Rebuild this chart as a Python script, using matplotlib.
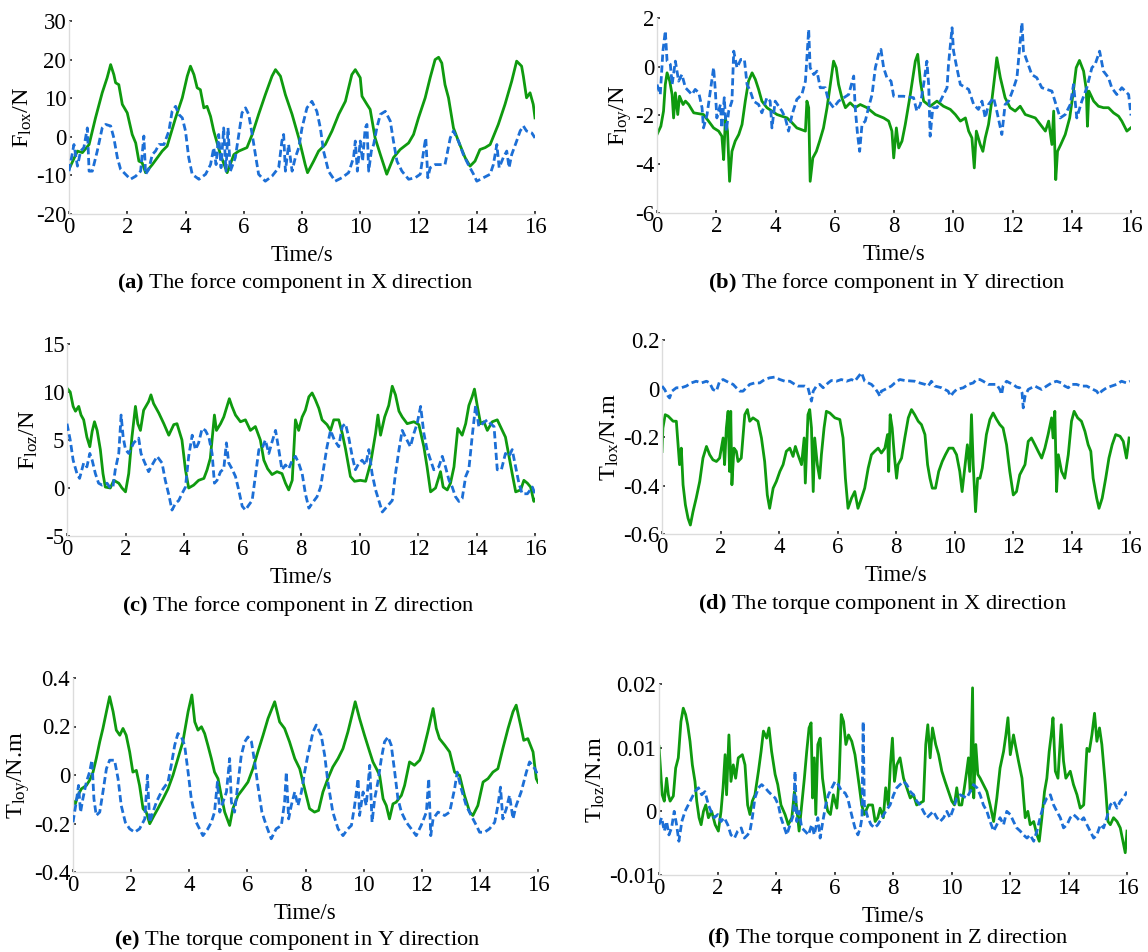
import matplotlib
matplotlib.use("Agg")
import matplotlib.pyplot as plt
from matplotlib.ticker import FuncFormatter

plt.rcParams['font.family'] = ['Liberation Serif', 'DejaVu Serif']
plt.rcParams['mathtext.fontset'] = 'custom'
plt.rcParams['mathtext.rm'] = 'Liberation Serif'
plt.rcParams['mathtext.it'] = 'Liberation Serif:italic'
plt.rcParams['mathtext.bf'] = 'Liberation Serif:bold'
plt.rcParams['axes.unicode_minus'] = False

# ---------------- data ----------------
# (a) force X
a_green_t = [0, 0.29, 0.46, 0.69, 0.91, 1.14, 1.31, 1.43, 1.54, 1.6, 1.71, 1.83, 2.0, 2.17, 2.29, 2.4, 2.51, 2.63, 2.86, 3.2, 3.37, 3.66, 3.89, 4.06, 4.17, 4.29, 4.4, 4.51, 4.63, 4.74, 4.86, 4.97, 5.2, 5.43, 5.66, 5.83, 6.11, 6.29, 6.51, 6.74, 6.97, 7.09, 7.26, 7.43, 7.66, 7.89, 8.11, 8.19, 8.4, 8.57, 8.8, 9.03, 9.26, 9.49, 9.71, 9.83, 10.0, 10.06, 10.23, 10.34, 10.51, 10.69, 10.91, 11.14, 11.37, 11.66, 11.83, 12.0, 12.23, 12.4, 12.57, 12.69, 12.8, 12.91, 13.03, 13.2, 13.37, 13.6, 13.77, 13.94, 14.11, 14.29, 14.46, 14.74, 14.97, 15.2, 15.37, 15.54, 15.6, 15.71, 15.83, 15.94, 16.0]
a_green_v = [-8.4, -3.7, -4.1, -2.0, 4.9, 11.4, 15.3, 18.7, 16.1, 14.0, 13.5, 8.4, 6.2, 0.6, -1.6, -6.3, -6.7, -9.3, -7.2, -3.7, -2.4, 4.9, 10.1, 15.7, 18.3, 16.1, 12.7, 12.2, 7.5, 7.9, 5.3, 1.5, -4.6, -9.3, -4.6, -3.7, -2.8, 0.6, 5.8, 10.9, 15.7, 17.4, 15.7, 10.9, 5.8, -0.3, -7.2, -9.3, -6.3, -3.7, -2.0, 1.5, 5.8, 9.2, 16.1, 17.4, 15.3, 10.5, 8.4, 7.1, -0.3, -4.6, -9.7, -5.4, -3.3, -1.6, 0.6, 4.9, 10.1, 15.3, 20.0, 20.6, 19.1, 13.5, 10.1, 2.3, -1.1, -5.4, -7.6, -6.3, -3.3, -2.8, -2.0, 3.2, 8.4, 14.4, 19.6, 18.3, 15.7, 10.1, 11.4, 8.4, 4.9]
a_blue_t = [0, 0.17, 0.29, 0.4, 0.51, 0.63, 0.69, 0.8, 0.97, 1.14, 1.26, 1.43, 1.54, 1.66, 1.77, 1.94, 2.11, 2.29, 2.46, 2.57, 2.63, 2.74, 2.86, 2.97, 3.09, 3.26, 3.43, 3.54, 3.66, 3.77, 3.89, 4.0, 4.11, 4.23, 4.46, 4.69, 4.86, 4.97, 5.05, 5.14, 5.22, 5.31, 5.39, 5.46, 5.54, 5.71, 5.83, 5.94, 6.06, 6.17, 6.29, 6.4, 6.51, 6.74, 6.97, 7.2, 7.31, 7.37, 7.43, 7.54, 7.66, 7.77, 7.89, 8.0, 8.17, 8.34, 8.51, 8.63, 8.74, 8.91, 9.14, 9.37, 9.6, 9.77, 9.83, 9.9, 10.0, 10.08, 10.17, 10.23, 10.29, 10.38, 10.46, 10.57, 10.69, 10.86, 11.03, 11.14, 11.26, 11.43, 11.66, 11.89, 12.06, 12.21, 12.25, 12.32, 12.4, 12.57, 12.91, 13.09, 13.2, 13.37, 13.54, 13.71, 13.89, 14.0, 14.23, 14.46, 14.57, 14.69, 14.77, 14.91, 15.03, 15.11, 15.2, 15.37, 15.49, 15.6, 15.71, 15.89, 16.0]
a_blue_v = [-8.9, -2.0, -7.6, -3.7, -2.8, 2.3, -8.9, -8.9, -3.7, 2.3, 3.2, 2.8, -0.3, -5.4, -8.4, -9.7, -11.0, -10.2, -8.9, 0.2, -9.7, -8.4, -4.6, -3.7, -2.0, -2.0, 1.5, 6.6, 7.9, 5.8, 4.9, 1.5, -5.4, -9.7, -11.0, -9.7, -7.2, -2.8, -7.2, 0.6, -8.0, 2.3, -8.9, 2.3, -8.9, -5.4, 0.6, 6.2, 7.5, 5.8, 0.6, -4.6, -9.7, -11.5, -10.2, -8.0, -1.1, 0.6, -8.9, -2.0, -8.9, -5.4, -2.8, 2.3, 7.5, 9.2, 6.6, 2.3, -3.7, -8.9, -11.5, -10.6, -9.3, -5.4, -1.1, -8.9, -1.1, -6.3, 2.3, 3.2, -8.9, -3.7, -2.0, 2.3, 5.8, 6.6, 4.1, -1.1, -6.3, -8.9, -11.0, -10.6, -9.7, -2.0, -0.3, -10.6, -8.0, -7.2, -7.2, -0.3, 1.5, -1.1, -4.6, -7.2, -9.7, -11.5, -10.6, -9.7, -7.2, -2.0, -8.0, -5.4, -3.7, -8.0, -4.6, -1.1, 1.5, 2.8, 1.5, 1.0, -0.3]

# (b) force Y
b_green_t = [0, 0.13, 0.22, 0.28, 0.34, 0.43, 0.51, 0.56, 0.62, 0.70, 0.76, 0.88, 0.96, 1.07, 1.24, 1.57, 1.74, 1.91, 2.08, 2.19, 2.25, 2.31, 2.38, 2.45, 2.53, 2.64, 2.76, 2.87, 2.98, 3.09, 3.21, 3.32, 3.43, 3.54, 3.71, 4.05, 4.39, 4.56, 4.72, 5.01, 5.06, 5.12, 5.17, 5.26, 5.38, 5.49, 5.62, 5.74, 5.85, 5.96, 6.05, 6.13, 6.24, 6.36, 6.52, 6.69, 6.86, 7.09, 7.37, 7.65, 7.82, 7.93, 7.99, 8.08, 8.16, 8.27, 8.38, 8.55, 8.72, 8.8, 8.89, 9.0, 9.22, 9.45, 9.67, 9.9, 10.07, 10.24, 10.41, 10.52, 10.63, 10.71, 10.78, 10.91, 11.0, 11.08, 11.19, 11.3, 11.42, 11.47, 11.59, 11.75, 11.92, 12.09, 12.26, 12.43, 12.77, 12.94, 13.11, 13.22, 13.33, 13.39, 13.46, 13.52, 13.63, 13.78, 13.93, 14.04, 14.15, 14.26, 14.4, 14.49, 14.53, 14.58, 14.74, 14.9, 15.07, 15.24, 15.41, 15.58, 15.69, 15.86, 16.0]
b_green_v = [-2.78, -2.44, -1.82, -0.73, -0.25, -0.59, -1.14, -2.1, -1.07, -1.96, -1.21, -1.55, -1.41, -1.55, -1.89, -1.96, -2.23, -2.51, -2.64, -2.85, -3.81, -2.1, -2.64, -4.7, -3.47, -3.05, -2.78, -2.37, -1.41, -0.59, -0.25, -0.52, -0.93, -1.41, -1.68, -1.96, -2.1, -2.3, -2.51, -2.64, -1.41, -1.68, -4.7, -3.74, -3.47, -3.05, -2.51, -1.68, -0.73, 0.23, -0.04, -0.73, -1.27, -1.68, -1.48, -1.68, -1.55, -1.68, -1.96, -2.1, -2.23, -2.64, -3.74, -2.51, -3.33, -3.05, -2.37, -1.14, 0.23, 0.51, -0.59, -1.41, -1.62, -1.41, -1.62, -1.75, -1.96, -2.23, -2.1, -2.64, -2.92, -4.15, -2.64, -3.19, -3.47, -2.92, -2.37, -1.41, -0.18, 0.37, -0.45, -1.27, -1.68, -1.82, -1.62, -1.96, -2.1, -2.37, -2.64, -2.23, -3.19, -1.82, -4.63, -3.47, -3.19, -2.78, -2.1, -1.14, -0.04, 0.26, -0.18, -0.93, -2.44, -1.0, -1.41, -1.62, -1.68, -1.68, -1.89, -2.03, -2.23, -2.64, -2.5]
b_blue_t = [0, 0.11, 0.2, 0.28, 0.34, 0.45, 0.51, 0.62, 0.73, 0.84, 0.96, 1.18, 1.29, 1.41, 1.52, 1.57, 1.69, 1.8, 1.91, 1.97, 2.02, 2.14, 2.19, 2.27, 2.34, 2.42, 2.53, 2.59, 2.7, 2.83, 2.95, 3.04, 3.15, 3.26, 3.43, 3.54, 3.71, 3.82, 3.88, 3.99, 4.22, 4.33, 4.44, 4.56, 4.72, 4.89, 5.01, 5.06, 5.12, 5.17, 5.29, 5.4, 5.51, 5.68, 5.79, 5.96, 6.13, 6.47, 6.64, 6.69, 6.77, 6.84, 6.92, 7.03, 7.14, 7.26, 7.37, 7.48, 7.56, 7.65, 7.76, 7.9, 7.99, 8.32, 8.66, 8.77, 8.89, 9.0, 9.11, 9.17, 9.22, 9.31, 9.45, 9.62, 9.79, 9.84, 9.96, 10.01, 10.12, 10.24, 10.52, 10.69, 10.85, 10.97, 11.08, 11.19, 11.36, 11.47, 11.64, 11.75, 11.87, 12.04, 12.15, 12.24, 12.32, 12.37, 12.49, 12.65, 12.82, 12.99, 13.33, 13.5, 13.61, 13.78, 13.95, 14.06, 14.17, 14.34, 14.51, 14.68, 14.79, 14.94, 15.07, 15.24, 15.35, 15.52, 15.69, 15.92, 16.0]
b_blue_v = [-0.73, -1.14, 0.64, 1.47, 0.23, 0.1, -0.73, 0.23, -0.59, -0.32, -0.86, -1.14, -0.93, -1.07, -1.68, -2.51, -1.96, -1.0, -0.04, -1.0, -2.1, -1.55, -2.51, -1.27, -2.64, -1.82, -1.41, 0.64, -0.04, 0.3, 0.3, -0.73, -1.0, -1.41, -1.55, -1.89, -1.27, -1.41, -2.51, -1.41, -1.82, -2.1, -2.64, -1.96, -1.34, -1.14, -0.59, 0.37, 1.53, -0.04, -0.32, -0.18, -0.86, -0.86, -1.41, -1.68, -1.41, -1.14, -0.38, -1.68, -2.78, -3.47, -2.37, -2.23, -1.68, -1.14, -0.04, 0.51, 0.71, -0.04, -0.45, -0.59, -1.21, -1.21, -1.27, -1.82, -1.55, -0.73, 0.23, -0.73, -2.85, -1.68, -1.68, -1.27, -0.86, 0.1, 1.6, 0.64, -0.04, -0.73, -0.93, -1.55, -1.75, -1.41, -2.1, -1.55, -1.27, -1.82, -2.78, -1.55, -1.41, -0.86, -0.45, 0.78, 1.81, 0.64, 0.23, -0.32, -0.45, -0.86, -1.0, -1.68, -2.1, -1.96, -1.55, -0.73, -2.1, -1.41, -0.86, -0.04, 0.1, 0.64, -0.18, -0.45, -0.86, -1.14, -0.86, -1.14, -2.0]

# (c) force Z
c_green_t = [0, 0.11, 0.21, 0.29, 0.4, 0.48, 0.57, 0.68, 0.78, 0.86, 0.94, 1.03, 1.14, 1.23, 1.31, 1.48, 1.6, 1.77, 1.88, 2.0, 2.11, 2.22, 2.34, 2.42, 2.51, 2.62, 2.79, 2.87, 2.96, 3.14, 3.31, 3.48, 3.65, 3.76, 3.93, 4.05, 4.16, 4.33, 4.5, 4.68, 4.79, 4.9, 4.98, 5.04, 5.11, 5.25, 5.36, 5.47, 5.55, 5.64, 5.76, 5.93, 6.1, 6.27, 6.44, 6.61, 6.73, 6.86, 7.01, 7.18, 7.35, 7.47, 7.58, 7.7, 7.81, 7.92, 8.04, 8.15, 8.27, 8.38, 8.49, 8.61, 8.72, 8.89, 9.01, 9.12, 9.29, 9.41, 9.52, 9.69, 9.83, 10.03, 10.21, 10.38, 10.55, 10.63, 10.72, 10.86, 11.0, 11.12, 11.23, 11.35, 11.46, 11.63, 11.86, 12.03, 12.2, 12.31, 12.43, 12.6, 12.77, 12.86, 13.0, 13.11, 13.23, 13.36, 13.51, 13.63, 13.74, 13.85, 13.93, 14.03, 14.14, 14.25, 14.37, 14.54, 14.71, 14.88, 14.99, 15.11, 15.22, 15.34, 15.51, 15.62, 15.74, 15.85, 15.96, 16.0]
c_green_v = [10.4, 10.0, 8.5, 8.0, 8.5, 7.6, 7.1, 5.3, 4.3, 5.9, 6.9, 6.0, 4.0, 1.5, 0.1, 0.0, 0.8, 0.5, 0.0, -0.4, 1.5, 5.3, 8.5, 6.7, 6.0, 8.1, 9.0, 9.7, 8.8, 7.8, 6.7, 5.5, 6.6, 6.7, 5.0, 1.9, 0.0, 0.3, 0.8, 1.0, 1.9, 3.1, 5.7, 7.6, 6.0, 6.7, 7.4, 8.5, 9.3, 8.5, 7.6, 6.9, 7.1, 6.0, 6.4, 5.0, 2.9, 2.0, 1.4, 1.7, 1.5, 0.5, -0.2, 0.8, 7.1, 6.0, 7.4, 8.1, 9.5, 9.9, 9.2, 8.3, 7.1, 6.6, 6.0, 7.1, 7.1, 5.7, 4.1, 1.2, 0.7, 0.8, 0.7, 2.6, 5.7, 7.6, 5.5, 7.4, 8.6, 10.6, 9.7, 8.0, 7.4, 6.7, 6.9, 6.6, 4.3, 2.2, -0.4, 0.0, 1.7, 0.1, -0.2, 0.5, 2.2, 6.2, 5.5, 6.7, 8.6, 9.5, 10.3, 8.5, 6.7, 6.9, 6.0, 6.9, 7.1, 6.0, 5.3, 3.3, 1.5, -0.4, -0.2, 0.8, 0.5, 0.1, -1.4, -1.2]
c_blue_t = [0, 0.11, 0.21, 0.34, 0.43, 0.57, 0.68, 0.78, 0.86, 0.97, 1.08, 1.2, 1.37, 1.48, 1.57, 1.65, 1.77, 1.85, 1.92, 2.0, 2.11, 2.28, 2.45, 2.53, 2.62, 2.79, 2.91, 3.08, 3.25, 3.36, 3.48, 3.59, 3.71, 3.82, 3.93, 4.05, 4.16, 4.28, 4.39, 4.5, 4.62, 4.73, 4.85, 4.96, 5.04, 5.13, 5.25, 5.36, 5.45, 5.53, 5.64, 5.76, 5.87, 5.99, 6.1, 6.21, 6.33, 6.44, 6.56, 6.67, 6.78, 6.9, 7.01, 7.13, 7.24, 7.35, 7.47, 7.58, 7.7, 7.81, 7.92, 8.04, 8.15, 8.27, 8.38, 8.55, 8.67, 8.78, 8.89, 9.01, 9.14, 9.29, 9.41, 9.52, 9.63, 9.75, 9.86, 9.98, 10.09, 10.21, 10.32, 10.43, 10.55, 10.66, 10.78, 10.95, 11.12, 11.23, 11.35, 11.46, 11.57, 11.74, 11.86, 11.97, 12.09, 12.2, 12.31, 12.43, 12.54, 12.71, 12.83, 12.94, 13.06, 13.17, 13.28, 13.4, 13.51, 13.63, 13.74, 13.85, 13.97, 14.08, 14.2, 14.37, 14.48, 14.6, 14.71, 14.85, 14.99, 15.11, 15.22, 15.34, 15.45, 15.56, 15.74, 15.91, 16.0]
c_blue_v = [6.7, 5.0, 2.9, 1.5, 1.0, 2.6, 2.2, 3.6, 2.9, 1.5, 0.5, 0.3, 0.5, 0.0, 0.1, 1.9, 3.6, 7.6, 5.3, 4.0, 3.6, 4.7, 5.2, 3.6, 2.9, 1.7, 2.4, 3.3, 2.6, 0.8, -0.7, -2.3, -1.6, -1.3, -0.6, 0.1, 3.3, 5.5, 4.0, 4.7, 6.2, 6.0, 5.3, 3.6, 0.5, 0.8, 1.7, 2.0, 4.7, 2.6, 2.0, 1.2, -0.2, -1.9, -2.3, -1.8, -1.3, 1.2, 4.0, 4.1, 5.0, 3.6, 4.8, 6.0, 4.0, 1.9, 2.4, 2.0, 2.9, 3.3, 2.6, 1.5, -0.6, -2.1, -1.6, -0.9, 0.1, 2.2, 4.3, 6.0, 5.0, 4.3, 6.4, 6.7, 5.3, 3.3, 1.9, 2.6, 2.9, 2.4, 4.0, 1.5, -0.2, -1.3, -2.5, -1.9, -1.3, 1.5, 4.0, 6.0, 5.3, 4.3, 5.7, 6.7, 8.5, 5.7, 4.0, 2.9, 1.9, 2.2, 3.3, 2.2, 0.8, 0.1, -0.9, -1.4, -1.1, 1.2, 2.0, 5.3, 8.6, 6.4, 6.7, 7.1, 6.7, 6.4, 1.9, 1.9, 3.6, 3.3, 4.0, 2.2, 0.5, -0.6, -0.6, 0.1, -0.6]

# (d) torque X
d_green_t = [0, 0.03, 0.11, 0.21, 0.38, 0.49, 0.55, 0.6, 0.66, 0.72, 0.8, 0.89, 0.97, 1.06, 1.17, 1.29, 1.4, 1.52, 1.63, 1.74, 1.86, 1.97, 2.09, 2.14, 2.2, 2.26, 2.31, 2.35, 2.39, 2.46, 2.54, 2.6, 2.71, 2.83, 2.92, 3.0, 3.11, 3.28, 3.4, 3.51, 3.6, 3.68, 3.8, 3.91, 4.03, 4.14, 4.25, 4.37, 4.48, 4.56, 4.65, 4.77, 4.86, 4.9, 4.99, 5.05, 5.11, 5.17, 5.22, 5.31, 5.39, 5.45, 5.54, 5.62, 5.74, 5.91, 6.08, 6.19, 6.27, 6.36, 6.48, 6.59, 6.7, 6.82, 6.93, 7.05, 7.16, 7.27, 7.39, 7.5, 7.62, 7.71, 7.75, 7.8, 7.87, 7.94, 8.02, 8.07, 8.19, 8.3, 8.42, 8.53, 8.64, 8.76, 8.87, 8.99, 9.08, 9.16, 9.24, 9.35, 9.46, 9.58, 9.69, 9.81, 9.95, 10.07, 10.18, 10.26, 10.35, 10.44, 10.52, 10.58, 10.64, 10.72, 10.79, 10.87, 10.95, 11.09, 11.21, 11.32, 11.44, 11.55, 11.66, 11.78, 11.89, 12.01, 12.12, 12.23, 12.41, 12.52, 12.63, 12.75, 12.86, 12.98, 13.09, 13.2, 13.32, 13.37, 13.43, 13.49, 13.55, 13.66, 13.77, 13.89, 14.0, 14.09, 14.21, 14.34, 14.46, 14.57, 14.66, 14.74, 14.86, 14.94, 15.05, 15.17, 15.28, 15.39, 15.51, 15.66, 15.77, 15.88, 15.97]
d_green_v = [-0.26, -0.163, -0.108, -0.114, -0.135, -0.135, -0.232, -0.314, -0.246, -0.397, -0.48, -0.535, -0.563, -0.508, -0.452, -0.383, -0.287, -0.239, -0.273, -0.294, -0.301, -0.287, -0.204, -0.314, -0.163, -0.094, -0.342, -0.094, -0.397, -0.246, -0.259, -0.301, -0.287, -0.108, -0.087, -0.135, -0.121, -0.135, -0.204, -0.301, -0.439, -0.494, -0.411, -0.383, -0.342, -0.314, -0.259, -0.246, -0.28, -0.239, -0.273, -0.314, -0.204, -0.39, -0.108, -0.087, -0.163, -0.425, -0.204, -0.314, -0.37, -0.273, -0.163, -0.094, -0.101, -0.121, -0.128, -0.204, -0.37, -0.494, -0.452, -0.425, -0.494, -0.452, -0.411, -0.328, -0.273, -0.259, -0.246, -0.266, -0.246, -0.19, -0.342, -0.108, -0.163, -0.273, -0.37, -0.314, -0.287, -0.204, -0.121, -0.087, -0.108, -0.135, -0.149, -0.19, -0.314, -0.37, -0.411, -0.411, -0.342, -0.301, -0.273, -0.246, -0.246, -0.273, -0.342, -0.425, -0.328, -0.232, -0.342, -0.108, -0.314, -0.508, -0.37, -0.37, -0.328, -0.19, -0.128, -0.101, -0.128, -0.149, -0.163, -0.232, -0.342, -0.439, -0.425, -0.356, -0.314, -0.218, -0.204, -0.232, -0.259, -0.287, -0.246, -0.19, -0.121, -0.204, -0.094, -0.425, -0.273, -0.342, -0.37, -0.273, -0.135, -0.094, -0.121, -0.135, -0.177, -0.232, -0.259, -0.37, -0.452, -0.494, -0.452, -0.37, -0.287, -0.232, -0.19, -0.197, -0.218, -0.287, -0.204]
d_blue_t = [0, 0.09, 0.21, 0.26, 0.34, 0.49, 0.66, 0.83, 1.0, 1.17, 1.35, 1.52, 1.63, 1.74, 1.86, 1.97, 2.09, 2.2, 2.31, 2.43, 2.54, 2.66, 2.77, 2.88, 3.0, 3.17, 3.34, 3.51, 3.68, 3.85, 4.03, 4.2, 4.37, 4.54, 4.65, 4.88, 4.99, 5.05, 5.11, 5.17, 5.28, 5.39, 5.51, 5.68, 5.79, 5.96, 6.13, 6.31, 6.48, 6.59, 6.7, 6.82, 6.93, 7.05, 7.16, 7.27, 7.39, 7.45, 7.5, 7.62, 7.73, 7.84, 7.96, 8.13, 8.3, 8.64, 8.81, 8.99, 9.1, 9.21, 9.33, 9.56, 9.67, 9.78, 9.87, 9.95, 10.07, 10.3, 10.47, 10.64, 10.75, 10.87, 10.98, 11.15, 11.44, 11.55, 11.61, 11.66, 11.78, 11.89, 12.01, 12.12, 12.23, 12.31, 12.35, 12.41, 12.52, 12.63, 12.75, 12.86, 12.98, 13.15, 13.32, 13.49, 13.66, 13.77, 13.89, 14.0, 14.17, 14.34, 14.52, 14.63, 14.74, 14.86, 14.94, 15.03, 15.2, 15.37, 15.54, 15.71, 15.88, 16.0]
d_blue_v = [0.010, -0.004, -0.032, -0.039, -0.011, 0.003, 0.003, 0.010, 0.023, 0.030, 0.023, 0.030, 0.023, -0.004, -0.011, 0.030, 0.037, 0.030, 0.023, 0.017, 0.003, -0.011, -0.011, 0.003, 0.017, 0.023, 0.023, 0.037, 0.044, 0.047, 0.037, 0.030, 0.030, 0.017, 0.010, 0.010, 0.003, -0.025, -0.052, -0.011, 0.010, 0.017, 0.003, 0.023, 0.033, 0.030, 0.037, 0.030, 0.037, 0.030, 0.047, 0.065, 0.030, 0.023, 0.017, 0.003, -0.018, -0.032, -0.011, -0.004, 0.003, 0.010, 0.023, 0.037, 0.033, 0.030, 0.023, 0.017, 0.010, 0.030, 0.010, 0.003, -0.004, -0.011, -0.032, -0.018, -0.004, 0.003, 0.017, 0.023, 0.037, 0.037, 0.030, 0.017, 0.017, -0.004, -0.025, 0.010, 0.030, 0.023, 0.017, 0.006, 0.003, -0.018, -0.080, -0.032, -0.004, 0.003, 0.010, 0.003, -0.004, 0.010, 0.023, 0.030, 0.023, 0.010, 0.003, 0.017, 0.017, 0.010, 0.010, 0.003, -0.004, -0.011, -0.025, -0.011, 0.003, 0.010, 0.017, 0.030, 0.023, 0.030]

# (e) torque Y
e_green_t = [0, 0.08, 0.17, 0.29, 0.46, 0.57, 0.69, 0.8, 0.92, 1.03, 1.15, 1.26, 1.38, 1.49, 1.61, 1.72, 1.83, 1.95, 2.06, 2.18, 2.29, 2.41, 2.52, 2.64, 2.79, 2.92, 3.1, 3.27, 3.44, 3.61, 3.78, 3.96, 4.09, 4.19, 4.3, 4.42, 4.53, 4.64, 4.76, 4.87, 4.99, 5.1, 5.22, 5.39, 5.5, 5.68, 5.85, 6.02, 6.19, 6.36, 6.54, 6.71, 6.94, 7.11, 7.28, 7.45, 7.63, 7.8, 7.97, 8.14, 8.31, 8.45, 8.6, 8.77, 8.94, 9.12, 9.29, 9.46, 9.63, 9.71, 9.86, 10.03, 10.21, 10.32, 10.44, 10.55, 10.67, 10.78, 10.89, 11.01, 11.12, 11.3, 11.41, 11.58, 11.75, 11.93, 12.04, 12.21, 12.39, 12.5, 12.61, 12.79, 12.96, 13.13, 13.3, 13.47, 13.65, 13.76, 13.93, 14.11, 14.28, 14.45, 14.62, 14.79, 14.97, 15.14, 15.25, 15.4, 15.51, 15.65, 15.83, 15.94, 16.0]
e_green_v = [-0.105, -0.119, -0.084, -0.057, -0.043, -0.022, 0.012, 0.068, 0.137, 0.192, 0.261, 0.323, 0.261, 0.185, 0.164, 0.192, 0.164, 0.095, 0.012, 0.019, -0.043, -0.139, -0.153, -0.201, -0.167, -0.139, -0.098, -0.057, -0.001, 0.068, 0.137, 0.261, 0.330, 0.219, 0.185, 0.199, 0.171, 0.123, 0.068, 0.012, -0.015, -0.084, -0.153, -0.208, -0.139, -0.084, -0.057, -0.029, 0.026, 0.095, 0.164, 0.233, 0.302, 0.219, 0.192, 0.137, 0.068, 0.026, -0.057, -0.139, -0.153, -0.146, -0.070, -0.015, 0.033, 0.068, 0.109, 0.178, 0.261, 0.302, 0.233, 0.164, 0.095, 0.054, 0.026, -0.001, -0.098, -0.126, -0.181, -0.119, -0.112, -0.084, -0.043, 0.054, 0.040, 0.061, 0.095, 0.178, 0.274, 0.192, 0.150, 0.123, 0.095, 0.012, -0.001, -0.084, -0.153, -0.167, -0.126, -0.029, -0.015, 0.012, 0.026, 0.109, 0.192, 0.261, 0.288, 0.206, 0.143, 0.150, 0.095, -0.015, -0.03]
e_blue_t = [0, 0.11, 0.19, 0.26, 0.34, 0.46, 0.57, 0.65, 0.72, 0.8, 0.92, 1.03, 1.15, 1.26, 1.43, 1.55, 1.66, 1.8, 1.95, 2.12, 2.29, 2.47, 2.56, 2.64, 2.75, 2.87, 2.98, 3.1, 3.27, 3.38, 3.5, 3.61, 3.73, 3.84, 3.96, 4.07, 4.24, 4.47, 4.64, 4.76, 4.87, 4.97, 5.05, 5.16, 5.28, 5.39, 5.45, 5.56, 5.68, 5.79, 5.91, 6.02, 6.14, 6.25, 6.36, 6.5, 6.65, 6.82, 6.99, 7.17, 7.28, 7.34, 7.42, 7.51, 7.63, 7.74, 7.86, 7.97, 8.08, 8.26, 8.37, 8.54, 8.66, 8.77, 8.94, 9.12, 9.29, 9.46, 9.58, 9.69, 9.81, 9.86, 9.98, 10.09, 10.21, 10.29, 10.38, 10.49, 10.61, 10.72, 10.84, 10.95, 11.07, 11.18, 11.3, 11.47, 11.64, 11.81, 11.98, 12.16, 12.24, 12.31, 12.39, 12.56, 12.79, 12.96, 13.13, 13.22, 13.36, 13.53, 13.7, 13.88, 13.99, 14.16, 14.33, 14.51, 14.62, 14.71, 14.79, 14.91, 15.02, 15.14, 15.25, 15.42, 15.6, 15.71, 15.89, 16.0]
e_blue_v = [-0.195, -0.112, -0.043, -0.153, -0.098, -0.029, 0.012, 0.061, -0.098, -0.167, -0.153, -0.070, 0.026, 0.061, 0.061, -0.015, -0.126, -0.195, -0.222, -0.236, -0.222, -0.181, -0.001, -0.195, -0.153, -0.112, -0.084, -0.057, -0.029, 0.040, 0.123, 0.171, 0.157, 0.123, 0.012, -0.098, -0.195, -0.250, -0.222, -0.195, -0.153, -0.029, -0.153, -0.112, -0.070, 0.068, -0.112, -0.153, -0.029, 0.081, 0.137, 0.157, 0.137, 0.054, -0.043, -0.153, -0.208, -0.263, -0.222, -0.208, -0.112, 0.012, -0.181, -0.126, -0.070, -0.126, -0.070, 0.012, 0.081, 0.178, 0.206, 0.164, 0.081, -0.029, -0.153, -0.222, -0.250, -0.222, -0.208, -0.126, -0.015, -0.167, -0.070, -0.126, 0.040, -0.195, -0.098, -0.029, 0.068, 0.137, 0.157, 0.123, 0.012, -0.098, -0.153, -0.195, -0.222, -0.250, -0.208, -0.153, -0.015, -0.250, -0.181, -0.153, -0.167, -0.153, -0.057, 0.012, -0.057, -0.126, -0.167, -0.208, -0.236, -0.236, -0.222, -0.195, -0.126, -0.050, -0.181, -0.139, -0.084, -0.181, -0.126, -0.070, 0.012, 0.054, 0.026, -0.001]

# (f) torque Z
f_green_t = [0, 0.07, 0.11, 0.18, 0.26, 0.32, 0.38, 0.49, 0.57, 0.66, 0.75, 0.83, 0.91, 0.98, 1.06, 1.14, 1.23, 1.29, 1.37, 1.44, 1.52, 1.6, 1.69, 1.8, 1.92, 2.03, 2.12, 2.19, 2.26, 2.31, 2.39, 2.46, 2.54, 2.62, 2.71, 2.85, 2.94, 3.03, 3.11, 3.19, 3.28, 3.4, 3.49, 3.57, 3.68, 3.76, 3.85, 3.97, 4.06, 4.17, 4.31, 4.42, 4.54, 4.63, 4.71, 4.79, 4.88, 4.97, 5.05, 5.13, 5.2, 5.25, 5.31, 5.36, 5.43, 5.51, 5.59, 5.68, 5.77, 5.86, 5.96, 6.08, 6.16, 6.23, 6.31, 6.39, 6.48, 6.59, 6.7, 6.84, 6.93, 7.02, 7.16, 7.3, 7.39, 7.48, 7.56, 7.67, 7.75, 7.84, 7.91, 7.98, 8.05, 8.13, 8.24, 8.36, 8.47, 8.59, 8.7, 8.81, 9.04, 9.12, 9.19, 9.27, 9.35, 9.46, 9.56, 9.67, 9.78, 9.9, 10.01, 10.1, 10.18, 10.26, 10.35, 10.44, 10.52, 10.58, 10.64, 10.72, 10.76, 10.83, 10.9, 10.98, 11.09, 11.21, 11.32, 11.44, 11.55, 11.66, 11.78, 11.86, 11.93, 12.01, 12.12, 12.18, 12.29, 12.41, 12.52, 12.61, 12.69, 12.81, 12.92, 13.0, 13.09, 13.18, 13.26, 13.34, 13.41, 13.47, 13.55, 13.64, 13.75, 13.83, 13.91, 14.06, 14.17, 14.29, 14.4, 14.52, 14.63, 14.71, 14.8, 14.89, 14.97, 15.06, 15.14, 15.26, 15.35, 15.43, 15.54, 15.66, 15.77, 15.86, 15.94, 16.0]
f_green_v = [0.0102, 0.0052, 0.0026, 0.0016, 0.0052, 0.0026, 0.0016, 0.0024, 0.0068, 0.0084, 0.0141, 0.0162, 0.0152, 0.0136, 0.0110, 0.0073, 0.0047, 0.0016, -0.0010, -0.0021, 0.0, 0.0010, -0.0010, 0.0, -0.0021, -0.0031, 0.0, 0.0037, 0.0089, 0.0026, 0.0120, 0.0047, 0.0073, 0.0052, 0.0084, 0.0089, 0.0073, 0.0010, -0.0005, 0.0016, 0.0026, 0.0063, 0.0094, 0.0126, 0.0115, 0.0131, 0.0094, 0.0058, 0.0042, 0.0010, -0.0005, -0.0021, -0.0010, 0.0031, 0.0005, -0.0031, 0.0010, 0.0052, 0.0094, 0.0131, 0.0139, 0.0021, 0.0084, -0.0005, 0.0105, 0.0115, 0.0052, 0.0021, 0.0, -0.0005, 0.0026, 0.0005, 0.0052, 0.0152, 0.0141, 0.0105, 0.0120, 0.0110, 0.0089, 0.0042, 0.0010, -0.0005, 0.0010, 0.0010, -0.0016, -0.0010, 0.0005, -0.0010, 0.0037, 0.0010, 0.0073, 0.0115, 0.0047, 0.0073, 0.0084, 0.0052, 0.0037, 0.0021, 0.0026, 0.0010, 0.0016, 0.0105, 0.0136, 0.0084, 0.0131, 0.0105, 0.0089, 0.0063, 0.0047, 0.0031, 0.0016, 0.0010, 0.0037, 0.0010, 0.0010, 0.0037, 0.0063, 0.0084, 0.0031, 0.0194, 0.0021, 0.0105, 0.0058, 0.0052, 0.0042, 0.0031, 0.0010, -0.0016, 0.0021, 0.0068, 0.0094, 0.0120, 0.0147, 0.0089, 0.0120, 0.0105, 0.0079, 0.0052, -0.0010, 0.0, -0.0021, -0.0016, -0.0037, -0.0047, -0.0010, 0.0031, 0.0052, 0.0094, 0.0120, 0.0147, 0.0063, 0.0052, 0.0136, 0.0079, 0.0052, 0.0063, 0.0042, 0.0026, 0.0005, 0.0010, 0.0099, 0.0094, 0.0120, 0.0154, 0.0110, 0.0131, 0.0105, 0.0042, -0.0016, -0.0021, -0.0010, -0.0016, -0.0026, -0.0047, -0.0065, -0.0031]
f_blue_t = [0, 0.09, 0.18, 0.26, 0.34, 0.43, 0.52, 0.6, 0.68, 0.78, 0.89, 1.0, 1.12, 1.23, 1.35, 1.46, 1.57, 1.69, 1.78, 1.89, 2.01, 2.12, 2.23, 2.35, 2.46, 2.58, 2.69, 2.81, 2.92, 3.03, 3.11, 3.19, 3.28, 3.4, 3.51, 3.63, 3.74, 3.85, 3.97, 4.08, 4.17, 4.25, 4.37, 4.48, 4.6, 4.65, 4.71, 4.79, 4.88, 4.99, 5.11, 5.22, 5.31, 5.43, 5.51, 5.6, 5.7, 5.79, 5.91, 6.02, 6.13, 6.25, 6.36, 6.45, 6.53, 6.61, 6.7, 6.8, 6.88, 6.94, 6.98, 7.02, 7.14, 7.25, 7.37, 7.48, 7.62, 7.75, 7.9, 8.02, 8.13, 8.24, 8.36, 8.47, 8.59, 8.7, 8.81, 8.93, 9.04, 9.16, 9.27, 9.38, 9.5, 9.61, 9.73, 9.84, 9.95, 10.07, 10.18, 10.3, 10.52, 10.64, 10.75, 10.87, 10.98, 11.09, 11.21, 11.32, 11.44, 11.55, 11.66, 11.78, 11.89, 12.01, 12.12, 12.23, 12.35, 12.46, 12.58, 12.69, 12.81, 12.92, 13.03, 13.15, 13.26, 13.38, 13.49, 13.6, 13.72, 13.83, 13.95, 14.06, 14.17, 14.29, 14.4, 14.52, 14.63, 14.74, 14.86, 14.97, 15.09, 15.2, 15.31, 15.43, 15.54, 15.66, 15.77, 15.88, 16.0]
f_blue_v = [-0.0021, -0.0010, -0.0031, -0.0016, -0.0037, -0.0026, 0.0, -0.0021, -0.0047, -0.0016, 0.0, 0.0010, 0.0021, 0.0031, 0.0037, 0.0026, 0.0031, 0.0010, 0.0, -0.0010, -0.0005, -0.0016, -0.0010, -0.0021, -0.0037, -0.0042, -0.0031, -0.0026, -0.0042, -0.0037, -0.0031, -0.0010, 0.0021, 0.0037, 0.0042, 0.0037, 0.0031, 0.0026, 0.0021, 0.0010, -0.0010, -0.0021, -0.0037, -0.0021, -0.0005, 0.0063, -0.0016, 0.0, -0.0026, -0.0031, -0.0037, -0.0021, -0.0037, -0.0010, -0.0042, -0.0016, 0.0010, 0.0026, 0.0037, 0.0047, 0.0042, 0.0031, 0.0029, 0.0021, 0.0005, -0.0010, -0.0026, -0.0037, -0.0026, -0.0010, 0.0141, 0.0010, -0.0010, -0.0021, -0.0026, -0.0021, -0.0010, 0.0, 0.0010, 0.0026, 0.0037, 0.0042, 0.0047, 0.0042, 0.0031, 0.0026, 0.0016, 0.0010, 0.0, -0.0010, -0.0005, 0.0, -0.0010, -0.0016, -0.0010, 0.0, -0.0010, 0.0005, 0.0021, 0.0026, 0.0021, 0.0031, 0.0042, 0.0037, 0.0026, 0.0010, 0.0, -0.0016, -0.0031, -0.0021, -0.0010, -0.0021, 0.0, -0.0005, -0.0016, -0.0026, -0.0031, -0.0037, -0.0042, -0.0037, -0.0047, -0.0031, -0.0010, 0.0010, 0.0021, 0.0026, 0.0010, 0.0, -0.0010, -0.0026, -0.0021, -0.0010, -0.0005, -0.0010, -0.0016, -0.0010, -0.0021, -0.0031, -0.0042, -0.0037, -0.0021, -0.0026, -0.0010, 0.0010, 0.0016, 0.0005, 0.0016, 0.0021, 0.0031]

panel_labels = ['(a)', '(b)', '(c)', '(d)', '(e)', '(f)']
captions = ['The force component in X direction', 'The force component in Y direction',
            'The force component in Z direction', 'The torque component in X direction',
            'The torque component in Y direction', 'The torque component in Z direction']
ylabels = [r'F$_{\mathrm{lox}}$/N', r'F$_{\mathrm{loy}}$/N', r'F$_{\mathrm{loz}}$/N',
           r'T$_{\mathrm{lox}}$/N.m', r'T$_{\mathrm{loy}}$/N.m', r'T$_{\mathrm{loz}}$/N.m']
yticks = [[-20, -10, 0, 10, 20, 30], [-6, -4, -2, 0, 2], [-5, 0, 5, 10, 15],
          [-0.6, -0.4, -0.2, 0, 0.2], [-0.4, -0.2, 0, 0.2, 0.4], [-0.01, 0, 0.01, 0.02]]
xticks = [0, 2, 4, 6, 8, 10, 12, 14, 16]
xlabel = 'Time/s'

series = [
    (a_green_t, a_green_v, a_blue_t, a_blue_v),
    (b_green_t, b_green_v, b_blue_t, b_blue_v),
    (c_green_t, c_green_v, c_blue_t, c_blue_v),
    (d_green_t, d_green_v, d_blue_t, d_blue_v),
    (e_green_t, e_green_v, e_blue_t, e_blue_v),
    (f_green_t, f_green_v, f_blue_t, f_blue_v),
]

# ---------------- layout ----------------
W, H = 1148, 952
fig = plt.figure(figsize=(W / 100, H / 100), dpi=100)
# axes boxes in pixels: (x0, x1, ytop, ybottom)
boxes = [(69, 535, 21, 214), (657, 1131, 18, 213),
         (67, 535, 344, 536), (662, 1130, 340, 534),
         (73, 538, 678, 872), (659, 1127, 684, 875)]
cap_pos = [(295, 283), (887, 283), (298, 606), (883, 604), (297, 940), (888, 938)]

GREEN = '#0f9a0f'
BLUE = '#1c6fd6'

for i, (x0, x1, yt, yb) in enumerate(boxes):
    ax = fig.add_axes([x0 / W, 1 - yb / H, (x1 - x0) / W, (yb - yt) / H])
    gt, gv, bt, bv = series[i]
    ax.plot(gt, gv, color=GREEN, lw=2.0, solid_joinstyle='round', zorder=2)
    ax.plot(bt, bv, color=BLUE, lw=2.0, dashes=(2.6, 1.3), zorder=3)
    ax.set_xlim(0, 16)
    ax.set_ylim(yticks[i][0], yticks[i][-1])
    ax.set_xticks(xticks)
    ax.set_yticks(yticks[i])
    ax.yaxis.set_major_formatter(FuncFormatter(lambda v, p: '%g' % round(v, 4)))
    for s in ['top', 'right']:
        ax.spines[s].set_visible(False)
    for s in ['left', 'bottom']:
        ax.spines[s].set_color('#dcdcdc')
        ax.spines[s].set_linewidth(1.0)
    ax.tick_params(direction='in', length=2, width=1.2, color='#222222',
                   labelsize=16.5, pad=2)
    ax.set_ylabel(ylabels[i], fontsize=17.5, labelpad=1)
    ax.set_xlabel(xlabel, fontsize=16.5, labelpad=5)
    cx, cy = cap_pos[i]
    fig.text(cx / W, 1 - cy / H, r'$\mathbf{' + panel_labels[i] + r'}$ ' + captions[i],
             fontsize=16.2, ha='center', va='center')

fig.savefig('out.png', dpi=100)
